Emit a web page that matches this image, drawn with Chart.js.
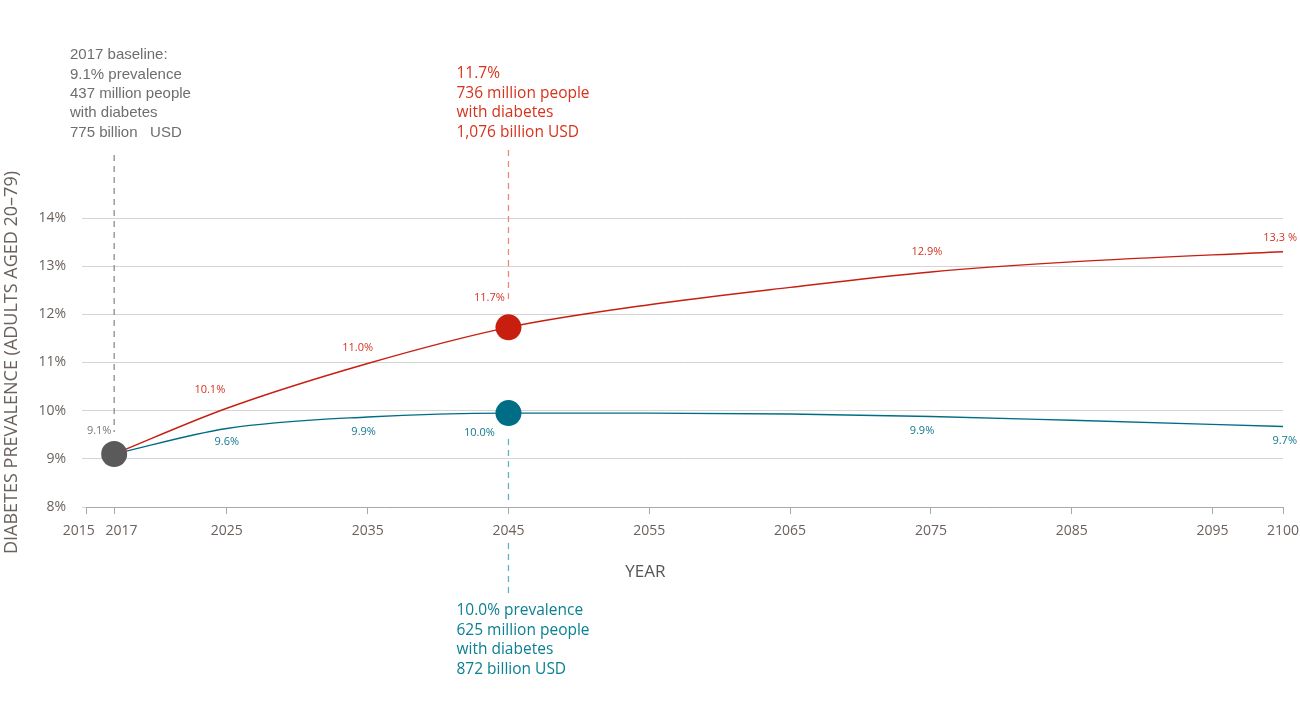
<!DOCTYPE html>
<html>
<head>
<meta charset="utf-8">
<script src="https://cdn.jsdelivr.net/npm/chart.js@4"></script>
<style>
  html, body { margin: 0; padding: 0; background: #fff; }
  #wrap { width: 1300px; height: 726px; }
</style>
</head>
<body>
<div id="wrap"><canvas id="prevChart"></canvas></div>
<script>
const years = [2017, 2025, 2035, 2045, 2055, 2065, 2075, 2085, 2100];
const highScenario = [9.1, 10.05, 10.98, 11.73, 12.2, 12.56, 12.88, 13.09, 13.3];
const lowScenario = [9.1, 9.63, 9.87, 9.95, 9.95, 9.93, 9.88, 9.8, 9.67];
const highLabels = ["", "10.1%", "11.0%", "11.7%", "", "", "12.9%", "", "13,3 %"];
const lowLabels = ["", "9.6%", "9.9%", "10.0%", "", "", "9.9%", "", "9.7%"];
const baseline = { year: 2017, value: 9.1, label: "9.1%" };
const focusYear = 2045;
const xTicks = [2015, 2017, 2025, 2035, 2045, 2055, 2065, 2075, 2085, 2095, 2100];
const baselineNote = ["2017 baseline:", "9.1% prevalence", "437 million people", "with diabetes", "775 billion   USD"];
const highNote = ["11.7%", "736 million people", "with diabetes", "1,076 billion USD"];
const lowNote = ["10.0% prevalence", "625 million people", "with diabetes", "872 billion USD"];

const RED = "#c81e10";
const TEAL = "#006d87";
const GREY = "#5a5a5a";
const TXT = "#6b625d";

Chart.defaults.font.family = "'Open Sans', sans-serif";

// label offsets relative to their data point
const highOffsets = [null, [-17, -18], [-10, -16], [-19, -29], null, null, [-4, -20], null, [-2, -14]];
const lowOffsets = [null, [0, 13], [-4, 15], [-29, 20], null, null, [-9, 14], null, [-2, 14]];

function dashed(ctx, x, y1, y2, color) {
  ctx.save();
  ctx.strokeStyle = color;
  ctx.lineWidth = 1.3;
  ctx.setLineDash([6, 5]);
  ctx.beginPath();
  ctx.moveTo(x, y1);
  ctx.lineTo(x, y2);
  ctx.stroke();
  ctx.restore();
}

function note(ctx, lines, x, y, color, font) {
  ctx.save();
  ctx.fillStyle = color;
  ctx.font = font;
  ctx.textAlign = "left";
  ctx.textBaseline = "middle";
  lines.forEach((t, i) => ctx.fillText(t, x, y + i * 19.4));
  ctx.restore();
}

const annotations = {
  id: "annotations",
  beforeDatasetsDraw(chart) {
    const { ctx, scales: { x, y } } = chart;
    const bx = x.getPixelForValue(baseline.year);
    const fx = x.getPixelForValue(focusYear);
    dashed(ctx, bx, 155, 432, "#8c8c8c");
    dashed(ctx, fx, 150, 302, "#ea8a76");
    dashed(ctx, fx, y.getPixelForValue(lowScenario[3]) + 26, y.bottom - 2, "#5db3c4");
    dashed(ctx, fx, 543, 596, "#5db3c4");
  },
  afterDatasetsDraw(chart) {
    const { ctx, scales: { x, y } } = chart;
    ctx.save();
    ctx.font = "11px 'Open Sans', sans-serif";
    ctx.textBaseline = "middle";
    const put = (labels, values, offs, color) => {
      ctx.fillStyle = color;
      labels.forEach((t, i) => {
        if (!t) return;
        const px = x.getPixelForValue(years[i]) + offs[i][0];
        const py = y.getPixelForValue(values[i]) + offs[i][1];
        const last = i === labels.length - 1;
        ctx.textAlign = last ? "right" : "center";
        ctx.fillText(t, last ? px + 16 : px, py);
      });
    };
    put(highLabels, highScenario, highOffsets, "#d43322");
    put(lowLabels, lowScenario, lowOffsets, "#12788e");
    ctx.fillStyle = "#777";
    ctx.textAlign = "center";
    ctx.fillText(baseline.label, x.getPixelForValue(baseline.year) - 15, y.getPixelForValue(baseline.value) - 23);

    // axis title, sits left of the plot centre as in the source
    ctx.fillStyle = "#555";
    ctx.font = "17px 'Open Sans', sans-serif";
    ctx.fillText("YEAR", x.getPixelForValue(2055) - 4, 572);
    ctx.restore();

    const fx = x.getPixelForValue(focusYear);
    note(ctx, baselineNote, 70, 55, "#6e6e6e", "15px 'Liberation Sans', sans-serif");
    note(ctx, highNote, fx - 52, 74, "#d6331d", "15.5px 'Open Sans', sans-serif");
    note(ctx, lowNote, fx - 52, 611, "#0b8093", "15.5px 'Open Sans', sans-serif");
  }
};

const focusIdx = years.indexOf(focusYear);
const radii = years.map((_, i) => (i === focusIdx ? 13 : 0));

new Chart(document.getElementById("prevChart"), {
  type: "line",
  data: {
    datasets: [
      {
        label: "baseline",
        data: [{ x: baseline.year, y: baseline.value }],
        pointRadius: 13,
        pointBackgroundColor: GREY,
        pointBorderWidth: 0,
        showLine: false,
        order: 0
      },
      {
        label: "high",
        data: years.map((yr, i) => ({ x: yr, y: highScenario[i] })),
        borderColor: RED,
        borderWidth: 1.4,
        pointRadius: radii,
        pointBackgroundColor: RED,
        pointBorderWidth: 0,
        cubicInterpolationMode: "monotone",
        order: 1
      },
      {
        label: "low",
        data: years.map((yr, i) => ({ x: yr, y: lowScenario[i] })),
        borderColor: TEAL,
        borderWidth: 1.4,
        pointRadius: radii,
        pointBackgroundColor: TEAL,
        pointBorderWidth: 0,
        cubicInterpolationMode: "monotone",
        order: 2
      }
    ]
  },
  options: {
    responsive: true,
    maintainAspectRatio: false,
    animation: false,
    layout: { padding: { top: 218, right: 17, bottom: 136, left: 0 } },
    plugins: { legend: { display: false }, tooltip: { enabled: false } },
    scales: {
      x: {
        type: "linear",
        min: 2015,
        max: 2100,
        afterBuildTicks: (axis) => { axis.ticks = xTicks.map((v) => ({ value: v })); },
        afterFit: (axis) => {
          axis.height = 83;
          axis.paddingLeft = 0;
          axis.paddingRight = 0;
        },
        grid: { drawOnChartArea: false, drawTicks: true, tickLength: 7, color: "#a8a8a8" },
        border: { display: true, color: "#a8a8a8" },
        ticks: {
          color: TXT, font: { size: 14 }, padding: 9, maxRotation: 0,
          // nudge the two crowded first labels apart
          callback: (v) => (v === 2015 ? "2015    " : v === 2017 ? "    2017" : String(v))
        }
      },
      y: {
        min: 8,
        max: 14,
        afterFit: (axis) => { axis.width = 86; },
        grid: { color: "#d4d4d4", drawTicks: true, tickLength: 4 },
        border: { display: false },
        ticks: { stepSize: 1, color: TXT, font: { size: 14 }, padding: 16, callback: (v) => v + "%" },
        title: { display: true, text: "DIABETES PREVALENCE (ADULTS AGED 20–79)", color: TXT, font: { size: 18 }, padding: { top: 1, bottom: 0 } }
      }
    }
  },
  plugins: [annotations]
});
</script>
</body>
</html>
